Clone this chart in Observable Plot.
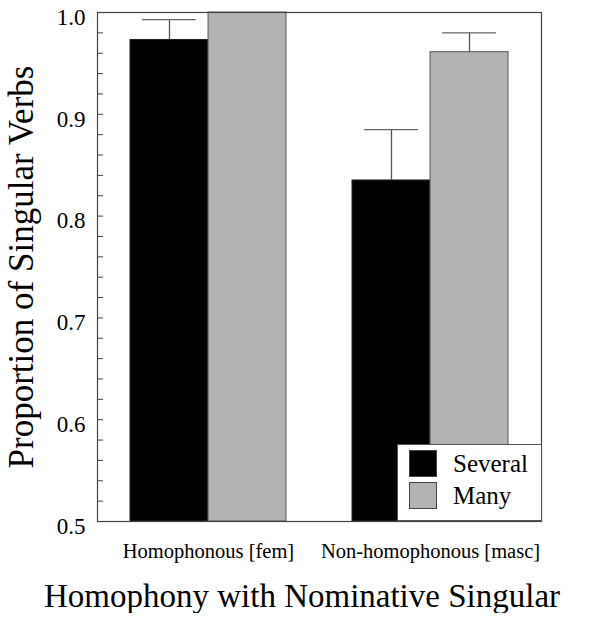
<!DOCTYPE html>
<html>
<head>
<meta charset="utf-8">
<script src="https://cdn.jsdelivr.net/npm/d3@7"></script>
<script src="https://cdn.jsdelivr.net/npm/@observablehq/plot@0.6"></script>
<style>
  html, body { margin: 0; padding: 0; background: #fff; }
  #wrap { position: relative; width: 604px; font-family: "Liberation Serif", "LiberationSerif", Tinos, "DejaVu Serif", serif; }
  #xlabel { width: 604px; text-align: center; font-size: 33px; line-height: 1; margin-top: 10px; color: #000; }
  #legend { position: absolute; left: 397px; top: 444px; width: 143px; height: 75px; border: 1px solid #555; background: #fff; }
  .row { position: absolute; left: 11px; display: flex; align-items: center; height: 26px; }
  .sw { width: 26px; height: 25px; border: 1px solid #444; box-sizing: content-box; }
  .lab { margin-left: 16px; font-size: 25px; line-height: 1; color: #000; }
  svg text { font-family: "Liberation Serif", "LiberationSerif", Tinos, "DejaVu Serif", serif; }
</style>
</head>
<body>
<div id="wrap"></div>
<script>
const groups = ["Homophonous [fem]", "Non-homophonous [masc]"];
const seriesNames = ["Several", "Many"];
const seriesColors = ["#000000", "#b3b3b3"];
const several = [0.973, 0.835];
const severalUpper = [0.993, 0.885];
const many = [1.0, 0.961];
const manyUpper = [1.0, 0.980];
const yTicks = [0.5, 0.6, 0.7, 0.8, 0.9, 1.0];
const yDomain = [0.5, 1.0];
const yLabel = "Proportion of Singular Verbs";
const xLabel = "Homophony with Nominative Singular";

const FONT = "'Liberation Serif', LiberationSerif, Tinos, 'DejaVu Serif', serif";
const W = 604, H = 570, mT = 12, mR = 63, mB = 49, mL = 97;
const pI = 0.297, pO = 0.1485;
const plotW = W - mL - mR;
const step = plotW / (groups.length - pI + 2 * pO);
const bw = step * (1 - pI);
const half = bw / 2;
const capInset = half * 0.155;

const sev = groups.map((g, i) => ({group: g, value: several[i], upper: severalUpper[i]}));
const mny = groups.map((g, i) => ({group: g, value: many[i], upper: manyUpper[i]}));
const minorTicks = d3.range(25, 51).map(d => d / 50);

const chart = Plot.plot({
  width: W, height: H,
  marginTop: mT, marginRight: mR, marginBottom: mB, marginLeft: mL,
  style: {fontFamily: FONT, background: "#fff", color: "#000", overflow: "visible"},
  x: {domain: groups, paddingInner: pI, paddingOuter: pO, label: null},
  y: {domain: yDomain, label: null},
  marks: [
    Plot.barY(sev, {x: "group", y1: yDomain[0], y2: "value", fill: seriesColors[0], stroke: "#222", strokeWidth: 1, insetRight: half}),
    Plot.barY(mny, {x: "group", y1: yDomain[0], y2: "value", fill: seriesColors[1], stroke: "#555", strokeWidth: 1, insetLeft: half}),
    Plot.ruleX(sev.filter(d => d.upper > d.value), {x: "group", y1: "value", y2: "upper", dx: -half / 2, stroke: "#555", strokeWidth: 1.3}),
    Plot.ruleX(mny.filter(d => d.upper > d.value), {x: "group", y1: "value", y2: "upper", dx: half / 2, stroke: "#555", strokeWidth: 1.3}),
    Plot.tickY(sev.filter(d => d.upper > d.value), {x: "group", y: "upper", insetLeft: capInset, insetRight: half + capInset, stroke: "#666", strokeWidth: 1.3}),
    Plot.tickY(mny.filter(d => d.upper > d.value), {x: "group", y: "upper", insetLeft: half + capInset, insetRight: capInset, stroke: "#666", strokeWidth: 1.3}),
    Plot.tickY(minorTicks, {y: d => d, insetRight: plotW - 6, stroke: "#444", strokeWidth: 1}),
    Plot.frame({stroke: "#444", strokeWidth: 1.2}),
    Plot.axisY(yTicks, {tickSize: 0, tickPadding: 12, tickFormat: d3.format(".1f"), fontSize: 23, dy: 5, fontFamily: FONT}),
    Plot.axisX({tickSize: 0, tickPadding: 22, fontSize: 20.5, label: null, fontFamily: FONT}),
    Plot.text([yLabel], {frameAnchor: "left", rotate: -90, dx: -76, fontSize: 35, lineAnchor: "middle", textAnchor: "middle", fill: "#000", fontFamily: FONT})
  ]
});

const wrap = document.getElementById("wrap");
wrap.appendChild(chart);

const legend = document.createElement("div");
legend.id = "legend";
seriesNames.forEach((name, i) => {
  const row = document.createElement("div");
  row.className = "row";
  row.style.top = (5 + i * 32) + "px";
  const sw = document.createElement("div");
  sw.className = "sw";
  sw.style.background = seriesColors[i];
  const lab = document.createElement("span");
  lab.className = "lab";
  lab.textContent = name;
  row.appendChild(sw);
  row.appendChild(lab);
  legend.appendChild(row);
});
wrap.appendChild(legend);

const xl = document.createElement("div");
xl.id = "xlabel";
xl.textContent = xLabel;
wrap.appendChild(xl);
</script>
</body>
</html>
